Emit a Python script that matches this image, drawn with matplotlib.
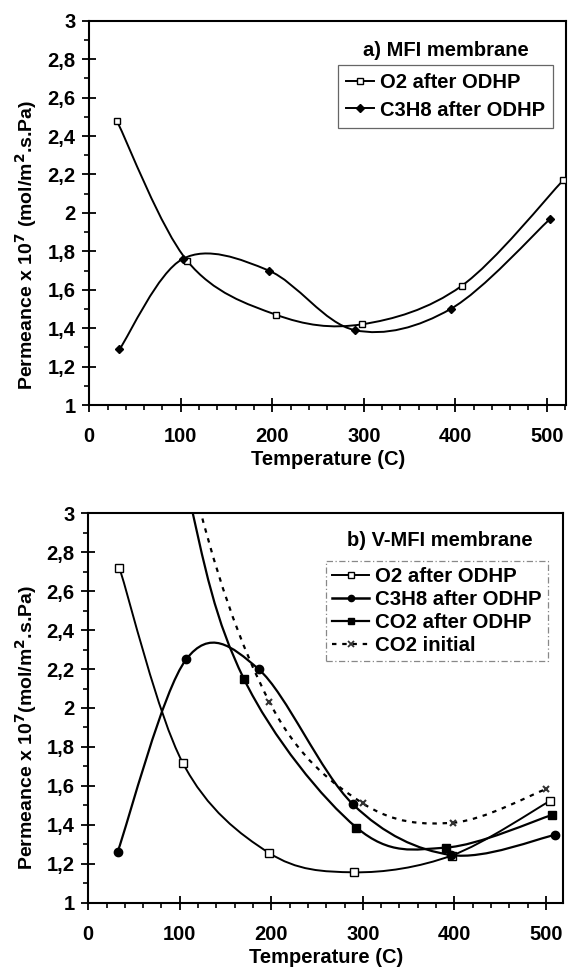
import numpy as np
import matplotlib
matplotlib.use("Agg")
import matplotlib.pyplot as plt
from matplotlib.path import Path
from matplotlib.patches import PathPatch
from matplotlib.lines import Line2D
from matplotlib.ticker import MultipleLocator, FuncFormatter

plt.rcParams['font.family'] = ['Liberation Sans', 'DejaVu Sans']
plt.rcParams['font.weight'] = 'bold'

# ---- panel a) MFI membrane ----
a_o2_x = [30, 107, 204, 298, 407, 518]
a_o2_y = [2.48, 1.75, 1.47, 1.42, 1.62, 2.17]
a_c3_x = [33, 102, 196, 290, 395, 504]
a_c3_y = [1.29, 1.76, 1.70, 1.39, 1.50, 1.97]

# ---- panel b) V-MFI membrane ----
b_o2_x = [34, 103, 197, 290, 397, 505]
b_o2_y = [2.72, 1.72, 1.257, 1.156, 1.242, 1.524]
b_c3_x = [32, 107, 186, 289, 396, 510]
b_c3_y = [1.26, 2.25, 2.20, 1.506, 1.245, 1.348]
b_co2_x = [30, 105, 170, 293, 391, 507]
b_co2_y = [5.2, 3.2, 2.15, 1.386, 1.283, 1.451]
b_co2i_x = [30, 110, 198, 300, 399, 500]
b_co2i_y = [5.4, 3.25, 2.03, 1.51, 1.411, 1.583]

labels_a = ["O2 after ODHP", "C3H8 after ODHP"]
labels_b = ["O2 after ODHP", "C3H8 after ODHP", "CO2 after ODHP", "CO2 initial"]
yticks = [1, 1.2, 1.4, 1.6, 1.8, 2, 2.2, 2.4, 2.6, 2.8, 3]
xticks = [0, 100, 200, 300, 400, 500]


def smooth_path(x, y):
    pts = np.column_stack([x, y]).astype(float)
    n = len(pts)
    verts = [pts[0]]
    codes = [Path.MOVETO]
    for i in range(n - 1):
        p0 = pts[i - 1] if i > 0 else pts[i]
        p1 = pts[i]
        p2 = pts[i + 1]
        p3 = pts[i + 2] if i + 2 < n else pts[i + 1]
        c1 = p1 + (p2 - p0) / 6.0
        c2 = p2 - (p3 - p1) / 6.0
        verts += [c1, c2, p2]
        codes += [Path.CURVE4] * 3
    return Path(verts, codes)


def add_curve(ax, x, y, lw=1.4, dashes=None):
    patch = PathPatch(smooth_path(x, y), facecolor='none', edgecolor='black',
                      lw=lw, zorder=2)
    if dashes is not None:
        patch.set_linestyle((0, dashes))
    ax.add_patch(patch)


def fmt(v, pos):
    s = f"{v:.1f}".replace('.', ',')
    if s.endswith(',0'):
        s = s[:-2]
    return s


fig = plt.figure(figsize=(5.71, 9.68), dpi=100)

ax1 = fig.add_axes([0.1564, 0.5816, 0.8348, 0.3970])
ax2 = fig.add_axes([0.1546, 0.0675, 0.8319, 0.4022])

for ax, xmax in ((ax1, 521), (ax2, 519)):
    ax.set_xlim(0, xmax)
    ax.set_ylim(1, 3)
    ax.set_xticks(xticks)
    ax.set_yticks(yticks)
    ax.xaxis.set_minor_locator(MultipleLocator(20))
    ax.yaxis.set_minor_locator(MultipleLocator(0.1))
    ax.yaxis.set_major_formatter(FuncFormatter(fmt))
    ax.tick_params(which='major', direction='inout', length=10, width=1.3,
                   labelsize=14.5)
    ax.tick_params(which='minor', direction='out', length=3.5, width=1.2)
    ax.tick_params(axis='x', which='major', pad=11)
    ax.tick_params(axis='y', which='major', pad=5)
    for sp in ax.spines.values():
        sp.set_linewidth(1.5)
    ax.set_xlabel("Temperature (C)", fontsize=14.5, fontweight='bold', labelpad=3)

# panel a
add_curve(ax1, a_o2_x, a_o2_y)
add_curve(ax1, a_c3_x, a_c3_y)
ax1.plot(a_o2_x, a_o2_y, ls='none', marker='s', ms=5, mfc='white', mec='black', mew=1.0, zorder=3)
ax1.plot(a_c3_x, a_c3_y, ls='none', marker='D', ms=4, mfc='black', mec='black', zorder=3)

h_a = [Line2D([], [], color='black', lw=1.4, marker='s', ms=5, mfc='white', mec='black'),
       Line2D([], [], color='black', lw=1.4, marker='D', ms=4, mfc='black', mec='black')]
leg1 = ax1.legend(h_a, labels_a, loc='upper left', bbox_to_anchor=(338 / 571, 1 - 65 / 968),
                  bbox_transform=fig.transFigure, borderaxespad=0, fancybox=False,
                  framealpha=1, edgecolor='#666666', prop={'size': 14.5, 'weight': 'bold'},
                  handlelength=1.4, handletextpad=0.3, labelspacing=0.42, borderpad=0.4)
leg1.get_frame().set_linewidth(0.9)
fig.text(446 / 571, 1 - 50 / 968, "a) MFI membrane", ha='center', va='center',
         fontsize=14.5, fontweight='bold')

# panel b
add_curve(ax2, b_o2_x, b_o2_y)
add_curve(ax2, b_c3_x, b_c3_y, lw=1.6)
add_curve(ax2, b_co2_x, b_co2_y, lw=1.6)
add_curve(ax2, b_co2i_x, b_co2i_y, lw=1.6, dashes=(2.0, 2.6))
ax2.plot(b_o2_x, b_o2_y, ls='none', marker='s', ms=5.5, mfc='white', mec='black', mew=1.0, zorder=3)
ax2.plot(b_c3_x, b_c3_y, ls='none', marker='o', ms=6, mfc='black', mec='black', zorder=4)
ax2.plot(b_co2_x, b_co2_y, ls='none', marker='s', ms=5.5, mfc='black', mec='black', zorder=3)
ax2.plot(b_co2i_x, b_co2i_y, ls='none', marker='x', ms=4.5, mec='#333333', mew=1.5, zorder=3)

h_b = [Line2D([], [], color='black', lw=1.4, marker='s', ms=4.5, mfc='white', mec='black'),
       Line2D([], [], color='black', lw=1.8, marker='o', ms=4.5, mfc='black', mec='black'),
       Line2D([], [], color='black', lw=1.6, marker='s', ms=4.5, mfc='black', mec='black'),
       Line2D([], [], color='black', lw=1.6, ls=(0, (2.0, 2.6)), marker='x', ms=4, mec='#333333', mew=1.3)]
leg2 = ax2.legend(h_b, labels_b, loc='upper left', bbox_to_anchor=(326 / 571, 1 - 560.7 / 968),
                  bbox_transform=fig.transFigure, borderaxespad=0, fancybox=False,
                  framealpha=1, edgecolor='#888888', prop={'size': 14.7, 'weight': 'bold'},
                  handlelength=1.8, handletextpad=0.3, labelspacing=0.2, borderpad=0.3)
leg2.get_frame().set_linewidth(0.9)
leg2.get_frame().set_linestyle((0, (5, 2, 1, 2)))
fig.text(440 / 571, 1 - 541 / 968, "b) V-MFI membrane", ha='center', va='center',
         fontsize=14.5, fontweight='bold')

fig.text(26 / 571, 1 - 245 / 968, r"Permeance x 10$^{\mathbf{7}}$ (mol/m$^{\mathbf{2}}$.s.Pa)",
         rotation=90, ha='center', va='center', fontsize=14, fontweight='bold')
fig.text(26 / 571, 1 - 728 / 968, r"Permeance x 10$^{\mathbf{7}}$(mol/m$^{\mathbf{2}}$.s.Pa)",
         rotation=90, ha='center', va='center', fontsize=14, fontweight='bold')

fig.savefig("out.png", dpi=100)
